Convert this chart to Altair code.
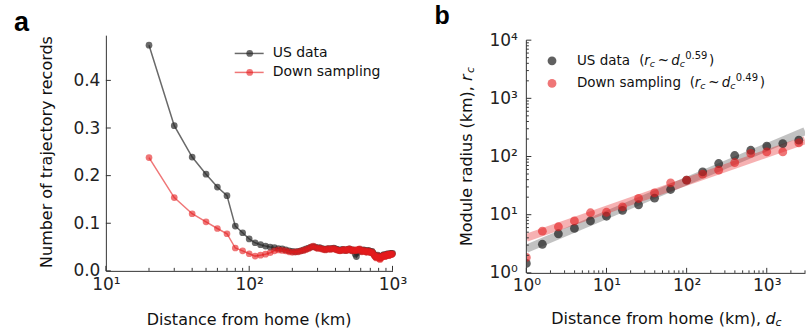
import altair as alt
import pandas as pd

# ---------------- data: panel a ----------------
dist_a = [20, 30, 40, 50, 60, 70, 80, 90, 100, 110, 120, 130, 140, 150, 160, 170, 180, 190, 200,
          210, 220, 230, 240, 250, 260, 270, 280, 290, 300, 310, 320, 330, 340, 350, 360, 370, 380,
          390, 400, 410, 420, 430, 440, 450, 460, 470, 480, 490, 500, 510, 520, 530, 540, 550, 560,
          570, 580, 590, 600, 610, 620, 630, 640, 650, 660, 670, 680, 690, 700, 710, 720, 730, 740,
          750, 760, 770, 780, 790, 800, 810, 820, 830, 840, 850, 860, 870, 880, 890, 900, 910, 920,
          930, 940, 950, 960, 970, 980, 990, 1000]
us_a = [0.474, 0.305, 0.239, 0.203, 0.176, 0.158, 0.094, 0.080, 0.067, 0.059, 0.055, 0.052, 0.050,
        0.049, 0.047, 0.046, 0.044, 0.042, 0.041, 0.040, 0.041, 0.042, 0.044, 0.046, 0.048, 0.050,
        0.051, 0.050, 0.048, 0.049, 0.047, 0.046, 0.045, 0.046, 0.047, 0.046, 0.047, 0.048, 0.046,
        0.045, 0.044, 0.043, 0.044, 0.045, 0.044, 0.043, 0.044, 0.045, 0.046, 0.044, 0.043, 0.044,
        0.042, 0.035, 0.030, 0.038, 0.044, 0.045, 0.043, 0.041, 0.042, 0.044, 0.043, 0.041, 0.040,
        0.042, 0.043, 0.041, 0.039, 0.040, 0.041, 0.038, 0.035, 0.033, 0.030, 0.029, 0.031, 0.033,
        0.030, 0.028, 0.027, 0.029, 0.031, 0.030, 0.032, 0.034, 0.033, 0.031, 0.032, 0.034, 0.036,
        0.035, 0.033, 0.034, 0.036, 0.037, 0.035, 0.036, 0.037]
down_a = [0.238, 0.154, 0.120, 0.103, 0.089, 0.078, 0.048, 0.042, 0.036, 0.031, 0.033, 0.035, 0.038,
          0.042, 0.044, 0.043, 0.042, 0.040, 0.039, 0.040, 0.040, 0.042, 0.043, 0.045, 0.047, 0.050,
          0.052, 0.049, 0.047, 0.048, 0.046, 0.045, 0.044, 0.046, 0.046, 0.045, 0.047, 0.047, 0.045,
          0.044, 0.043, 0.042, 0.043, 0.044, 0.045, 0.043, 0.043, 0.045, 0.046, 0.045, 0.042, 0.043,
          0.044, 0.042, 0.043, 0.045, 0.044, 0.046, 0.043, 0.040, 0.041, 0.043, 0.042, 0.040, 0.039,
          0.041, 0.042, 0.040, 0.038, 0.039, 0.040, 0.037, 0.034, 0.031, 0.029, 0.027, 0.030, 0.032,
          0.028, 0.025, 0.024, 0.027, 0.030, 0.029, 0.031, 0.033, 0.032, 0.030, 0.031, 0.033, 0.035,
          0.034, 0.032, 0.033, 0.035, 0.036, 0.034, 0.035, 0.036]

# ---------------- data: panel b ----------------
dist_b = [1, 1.585, 2.512, 3.981, 6.310, 10, 15.85, 25.12, 39.81, 63.10, 100, 158.5, 251.2,
          398.1, 631.0, 1000, 1585, 2512]
us_b = [1.45, 3.1, 4.7, 5.8, 7.8, 9.4, 11.9, 14.8, 19.2, 27.1, 39.2, 54.5, 75.8, 104, 128, 151,
        167, 191]
down_b = [1.84, 5.2, 6.2, 7.8, 10.8, 11.0, 13.6, 19.0, 23.7, 35.3, 39.2, 49.7, 58.2, 78.8, 113,
          120, 120, 172]
fit_d = [1, 3000]
fit_us = [2.6, 273]
fit_down = [4.0, 191]

# tick positions
a_x_major = [10, 100, 1000]
a_x_minor = [20, 30, 40, 50, 60, 70, 80, 90, 200, 300, 400, 500, 600, 700, 800, 900]
a_y_major = [0.0, 0.1, 0.2, 0.3, 0.4]
b_x_major = [1, 10, 100, 1000]
b_x_minor = [2, 3, 4, 5, 6, 7, 8, 9, 20, 30, 40, 50, 60, 70, 80, 90, 200, 300, 400, 500, 600,
             700, 800, 900, 2000, 3000]
b_y_major = [1, 10, 100, 1000, 10000]
b_y_minor = [2, 3, 4, 5, 6, 7, 8, 9, 20, 30, 40, 50, 60, 70, 80, 90, 200, 300, 400, 500, 600,
             700, 800, 900, 2000, 3000, 4000, 5000, 6000, 7000, 8000, 9000]

GRAY = "#2a2a2a"
RED = "#e41a1c"
AXC = "#333333"
FONT = "DejaVu Sans"
one = pd.DataFrame({"k": [0]})


def txt(s, x, y, size, align="left", baseline="middle", angle=0, style="normal",
        weight="normal", font=FONT, color="#111111"):
    return alt.Chart(one).mark_text(
        text=s, align=align, baseline=baseline, angle=angle, fontStyle=style,
        fontWeight=weight, font=font, fontSize=size, color=color
    ).encode(x=alt.value(x), y=alt.value(y))


def sup_expr(vals, sups):
    e = "''"
    for v, s in zip(vals, sups):
        e = f"datum.value == {v} ? '10{s}' : ({e})"
    return e


# ================= panel a =================
WA, HA = 287, 236
xsa = alt.Scale(type="log", domain=[10, 1000], nice=False)
ysa = alt.Scale(domain=[0, 0.495], nice=False, zero=False)

df_a = pd.DataFrame({"d": dist_a, "us": us_a, "down": down_a})

xa_axis = alt.Axis(values=a_x_major, labelExpr=sup_expr(a_x_major, ["¹", "²", "³"]),
                   ticks=False, grid=False, title=None, labelFlush=False, labelOverlap=False,
                   labelPadding=6, labelFontSize=17, labelFont=FONT, domainColor=AXC,
                   labelColor="#222")
ya_axis = alt.Axis(values=a_y_major, format=".1f", ticks=False, grid=False, title=None,
                   labelPadding=6, labelFontSize=17, labelFont=FONT, domainColor=AXC,
                   labelColor="#222")


def XA(f):
    return alt.X(f, scale=xsa, axis=xa_axis)


def YA(f):
    return alt.Y(f, scale=ysa, axis=ya_axis)


base_a = alt.Chart(df_a)
us_line = base_a.mark_line(color=GRAY, opacity=0.7, strokeWidth=1.5).encode(
    x=XA("d:Q"), y=YA("us:Q"))
us_pts = base_a.mark_circle(color=GRAY, opacity=0.7, size=45).encode(
    x=XA("d:Q"), y=YA("us:Q"))
dn_line = base_a.mark_line(color=RED, opacity=0.6, strokeWidth=1.5).encode(
    x=XA("d:Q"), y=YA("down:Q"))
dn_pts = base_a.mark_circle(color=RED, opacity=0.6, size=45).encode(
    x=XA("d:Q"), y=YA("down:Q"))

tick_ax_major = alt.Chart(pd.DataFrame({"d": a_x_major})).mark_rule(color=AXC).encode(
    x=XA("d:Q"), y=alt.value(HA), y2=alt.value(HA - 5))
tick_ax_minor = alt.Chart(pd.DataFrame({"d": a_x_minor})).mark_rule(color=AXC).encode(
    x=XA("d:Q"), y=alt.value(HA), y2=alt.value(HA - 3))
tick_ay = alt.Chart(pd.DataFrame({"us": a_y_major})).mark_rule(color=AXC).encode(
    y=YA("us:Q"), x=alt.value(0), x2=alt.value(5))

leg_a = [
    alt.Chart(one).mark_rule(color=GRAY, opacity=0.7, strokeWidth=1.5).encode(
        x=alt.value(129), x2=alt.value(158), y=alt.value(18.3)),
    alt.Chart(one).mark_circle(color=GRAY, opacity=0.7, size=45).encode(
        x=alt.value(144), y=alt.value(18.3)),
    alt.Chart(one).mark_rule(color=RED, opacity=0.6, strokeWidth=1.5).encode(
        x=alt.value(129), x2=alt.value(158), y=alt.value(37.3)),
    alt.Chart(one).mark_circle(color=RED, opacity=0.6, size=45).encode(
        x=alt.value(144), y=alt.value(37.3)),
    txt("US data", 167, 18.3, 14),
    txt("Down sampling", 167, 37.3, 14),
]

anchor = alt.Chart(one).mark_rule(color="white", opacity=0, strokeWidth=1).encode(
    x=alt.value(-106), x2=alt.value(-105), y=alt.value(-35), y2=alt.value(-34))

texts_a = [
    txt("Number of trajectory records", -59, 117, 16, align="center", angle=270),
    txt("Distance from home (km)", 143.5, 285, 16, align="center"),
    txt("a", -92, -4, 27, baseline="alphabetic", weight="bold", font="Liberation Sans",
        color="#000000"),
]

panel_a = alt.layer(us_line, us_pts, dn_line, dn_pts, tick_ax_major, tick_ax_minor, tick_ay,
                    *leg_a, *texts_a, anchor).properties(width=WA, height=HA)

# ================= panel b =================
WB, HB = 279, 238
xsb = alt.Scale(type="log", domain=[1, 3000], nice=False)
ysb = alt.Scale(type="log", domain=[1, 12190], nice=False)

df_b = pd.DataFrame({"d": dist_b, "us": us_b, "down": down_b})
df_fit = pd.DataFrame({"d": fit_d, "us": fit_us, "down": fit_down})

xb_axis = alt.Axis(values=b_x_major, labelExpr=sup_expr(b_x_major, ["⁰", "¹", "²", "³"]),
                   ticks=False, grid=False, title=None, labelFlush=False, labelOverlap=False,
                   labelPadding=5, labelFontSize=17, labelFont=FONT, domainColor=AXC,
                   labelColor="#222")
yb_axis = alt.Axis(values=b_y_major, labelExpr=sup_expr(b_y_major, ["⁰", "¹", "²", "³", "⁴"]),
                   ticks=False, grid=False, title=None, labelFlush=False, labelOverlap=False,
                   labelPadding=9, labelFontSize=17, labelFont=FONT, domain=False,
                   labelColor="#222")


def XB(f):
    return alt.X(f, scale=xsb, axis=xb_axis)


def YB(f):
    return alt.Y(f, scale=ysb, axis=yb_axis)


fit_us_l = alt.Chart(df_fit).mark_line(color="#555555", opacity=0.36, strokeWidth=8,
                                       clip=True).encode(x=XB("d:Q"), y=YB("us:Q"))
fit_dn_l = alt.Chart(df_fit).mark_line(color=RED, opacity=0.34, strokeWidth=8,
                                       clip=True).encode(x=XB("d:Q"), y=YB("down:Q"))
us_b_pts = alt.Chart(df_b).mark_circle(color="#222222", opacity=0.72, size=78,
                                       clip=True).encode(x=XB("d:Q"), y=YB("us:Q"))
dn_b_pts = alt.Chart(df_b).mark_circle(color=RED, opacity=0.6, size=78, clip=True).encode(
    x=XB("d:Q"), y=YB("down:Q"))

ydom_b = alt.Chart(one).mark_rule(color=AXC).encode(
    x=alt.value(0), y=alt.value(5), y2=alt.value(HB))
tick_bx_major = alt.Chart(pd.DataFrame({"d": b_x_major})).mark_rule(color=AXC).encode(
    x=XB("d:Q"), y=alt.value(HB), y2=alt.value(HB - 5))
tick_bx_minor = alt.Chart(pd.DataFrame({"d": b_x_minor})).mark_rule(color=AXC).encode(
    x=XB("d:Q"), y=alt.value(HB), y2=alt.value(HB - 2.5))
tick_by_major = alt.Chart(pd.DataFrame({"us": b_y_major})).mark_rule(color=AXC).encode(
    y=YB("us:Q"), x=alt.value(0), x2=alt.value(5))
tick_by_minor = alt.Chart(pd.DataFrame({"us": b_y_minor})).mark_rule(color=AXC).encode(
    y=YB("us:Q"), x=alt.value(0), x2=alt.value(2.5))


def leg_row(label, expo, y, p, color, op):
    return [
        alt.Chart(one).mark_circle(color=color, opacity=op, size=78).encode(
            x=alt.value(25.7), y=alt.value(y)),
        txt(label, 50.7, y, 13.5),
        txt("(", p, y, 13.5),
        txt("r", p + 5, y, 13.5, style="italic"),
        txt("c", p + 10.5, y + 3, 9.5, style="italic"),
        txt("~", p + 18.5, y, 13.5),
        txt("d", p + 32, y, 13.5, style="italic"),
        txt("c", p + 40.5, y + 3, 9.5, style="italic"),
        txt(expo, p + 46, y - 5, 10),
        txt(")", p + 70, y, 13.5),
    ]


leg_b = leg_row("US data", "0.59", 25.7, 113, "#222222", 0.72) + \
    leg_row("Down sampling", "0.49", 48.3, 163.7, RED, 0.6)

texts_b = [
    txt("Distance from home (km),", 235, 284, 16, align="right"),
    txt("d", 239.5, 284, 16, style="italic"),
    txt("c", 249.5, 288, 11, style="italic"),
    txt("Module radius (km),", -59.5, 51, 16, align="right", angle=270),
    txt("r", -59.5, 46, 16, align="left", angle=270, style="italic"),
    txt("c", -55.5, 38, 11, align="left", angle=270, style="italic"),
    txt("b", -92, -11, 25, baseline="alphabetic", weight="bold", font="Liberation Sans",
        color="#000000"),
]

panel_b = alt.layer(fit_us_l, fit_dn_l, us_b_pts, dn_b_pts, ydom_b, tick_bx_major,
                    tick_bx_minor, tick_by_major, tick_by_minor, *leg_b,
                    *texts_b).properties(width=WB, height=HB)

chart = alt.hconcat(panel_a, panel_b, spacing=134, bounds="flush").properties(
    padding=0
).configure_view(stroke=None)

chart.save("out.html", embed_options={"renderer": "svg", "actions": False})
